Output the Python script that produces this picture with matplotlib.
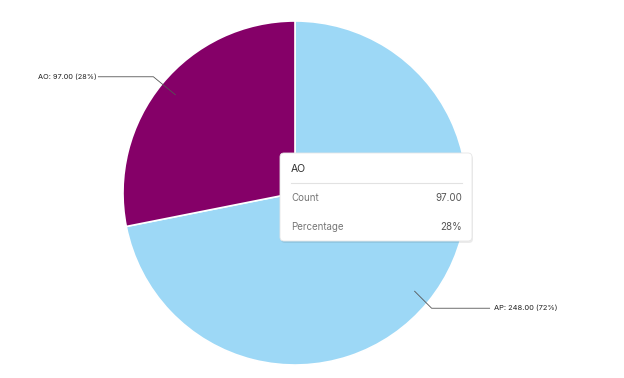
import numpy as np
import matplotlib.pyplot as plt
from matplotlib.patches import FancyBboxPatch

plt.rcParams['font.family'] = ['Inter', 'DejaVu Sans']

labels = ['AP', 'AO']
counts = [248.00, 97.00]
colors = ['#9dd8f6', '#850068']

W, H = 624, 378
fig = plt.figure(figsize=(W / 100, H / 100), dpi=100)
ax = fig.add_axes([0, 0, 1, 1])

cx, cy, r = 295, H - 193, 172
wedges, _ = ax.pie(counts, colors=colors, startangle=90, counterclock=False,
                   center=(cx, cy), radius=r, frame=True,
                   wedgeprops=dict(edgecolor='white', linewidth=1.2))
ax.set_xlim(0, W)
ax.set_ylim(0, H)
ax.set_aspect('equal')
ax.axis('off')

total = sum(counts)
line_col = '#555555'
# leader lines start at the wedge mid angles
for w, lab, c in zip(wedges, labels, counts):
    mid = np.deg2rad((w.theta1 + w.theta2) / 2)
    px, py = cx + 0.9 * r * np.cos(mid), cy + 0.9 * r * np.sin(mid)
    txt = f"{lab}: {c:.2f} ({c / total:.0%})"
    if np.cos(mid) < 0:
        ex, ey = px - 22, py + 18
        ax.plot([px, ex, ex - 55], [py, ey, ey], color=line_col, lw=0.6)
        ax.text(ex - 57, ey, txt, ha='right', va='center', fontsize=5.3, color='#222222')
    else:
        ex, ey = px + 17, py - 17
        ax.plot([px, ex, ex + 58], [py, ey, ey], color=line_col, lw=0.6)
        ax.text(ex + 62, ey, txt, ha='left', va='center', fontsize=5.4, color='#222222')

# tooltip
x0, y0, x1, y1 = 280, H - 241, 472, H - 153
shadow = FancyBboxPatch((x0 + 1, y0 - 2), x1 - x0, y1 - y0,
                        boxstyle='round,pad=0,rounding_size=4',
                        facecolor='#000000', alpha=0.08, edgecolor='none', zorder=4)
ax.add_patch(shadow)
box = FancyBboxPatch((x0, y0), x1 - x0, y1 - y0,
                     boxstyle='round,pad=0,rounding_size=4',
                     facecolor='white', edgecolor='#e6e6e6', linewidth=0.6, zorder=5)
ax.add_patch(box)
sel = labels[1]
sel_val = counts[1]
ax.text(x0 + 11, H - 169, sel, ha='left', va='center', fontsize=7.5, color='#333333', zorder=6)
ax.plot([x0 + 11, x1 - 10], [H - 183, H - 183], color='#e2e2e2', lw=0.8, zorder=6)
ax.text(x0 + 11, H - 198, 'Count', ha='left', va='center', fontsize=7, color='#777777', zorder=6)
ax.text(x1 - 10, H - 198, f"{sel_val:.2f}", ha='right', va='center', fontsize=7, color='#555555', zorder=6)
ax.text(x0 + 11, H - 227, 'Percentage', ha='left', va='center', fontsize=7, color='#777777', zorder=6)
ax.text(x1 - 10, H - 227, f"{sel_val / total:.0%}", ha='right', va='center', fontsize=7, color='#555555', zorder=6)

fig.savefig('out.png', dpi=100)
